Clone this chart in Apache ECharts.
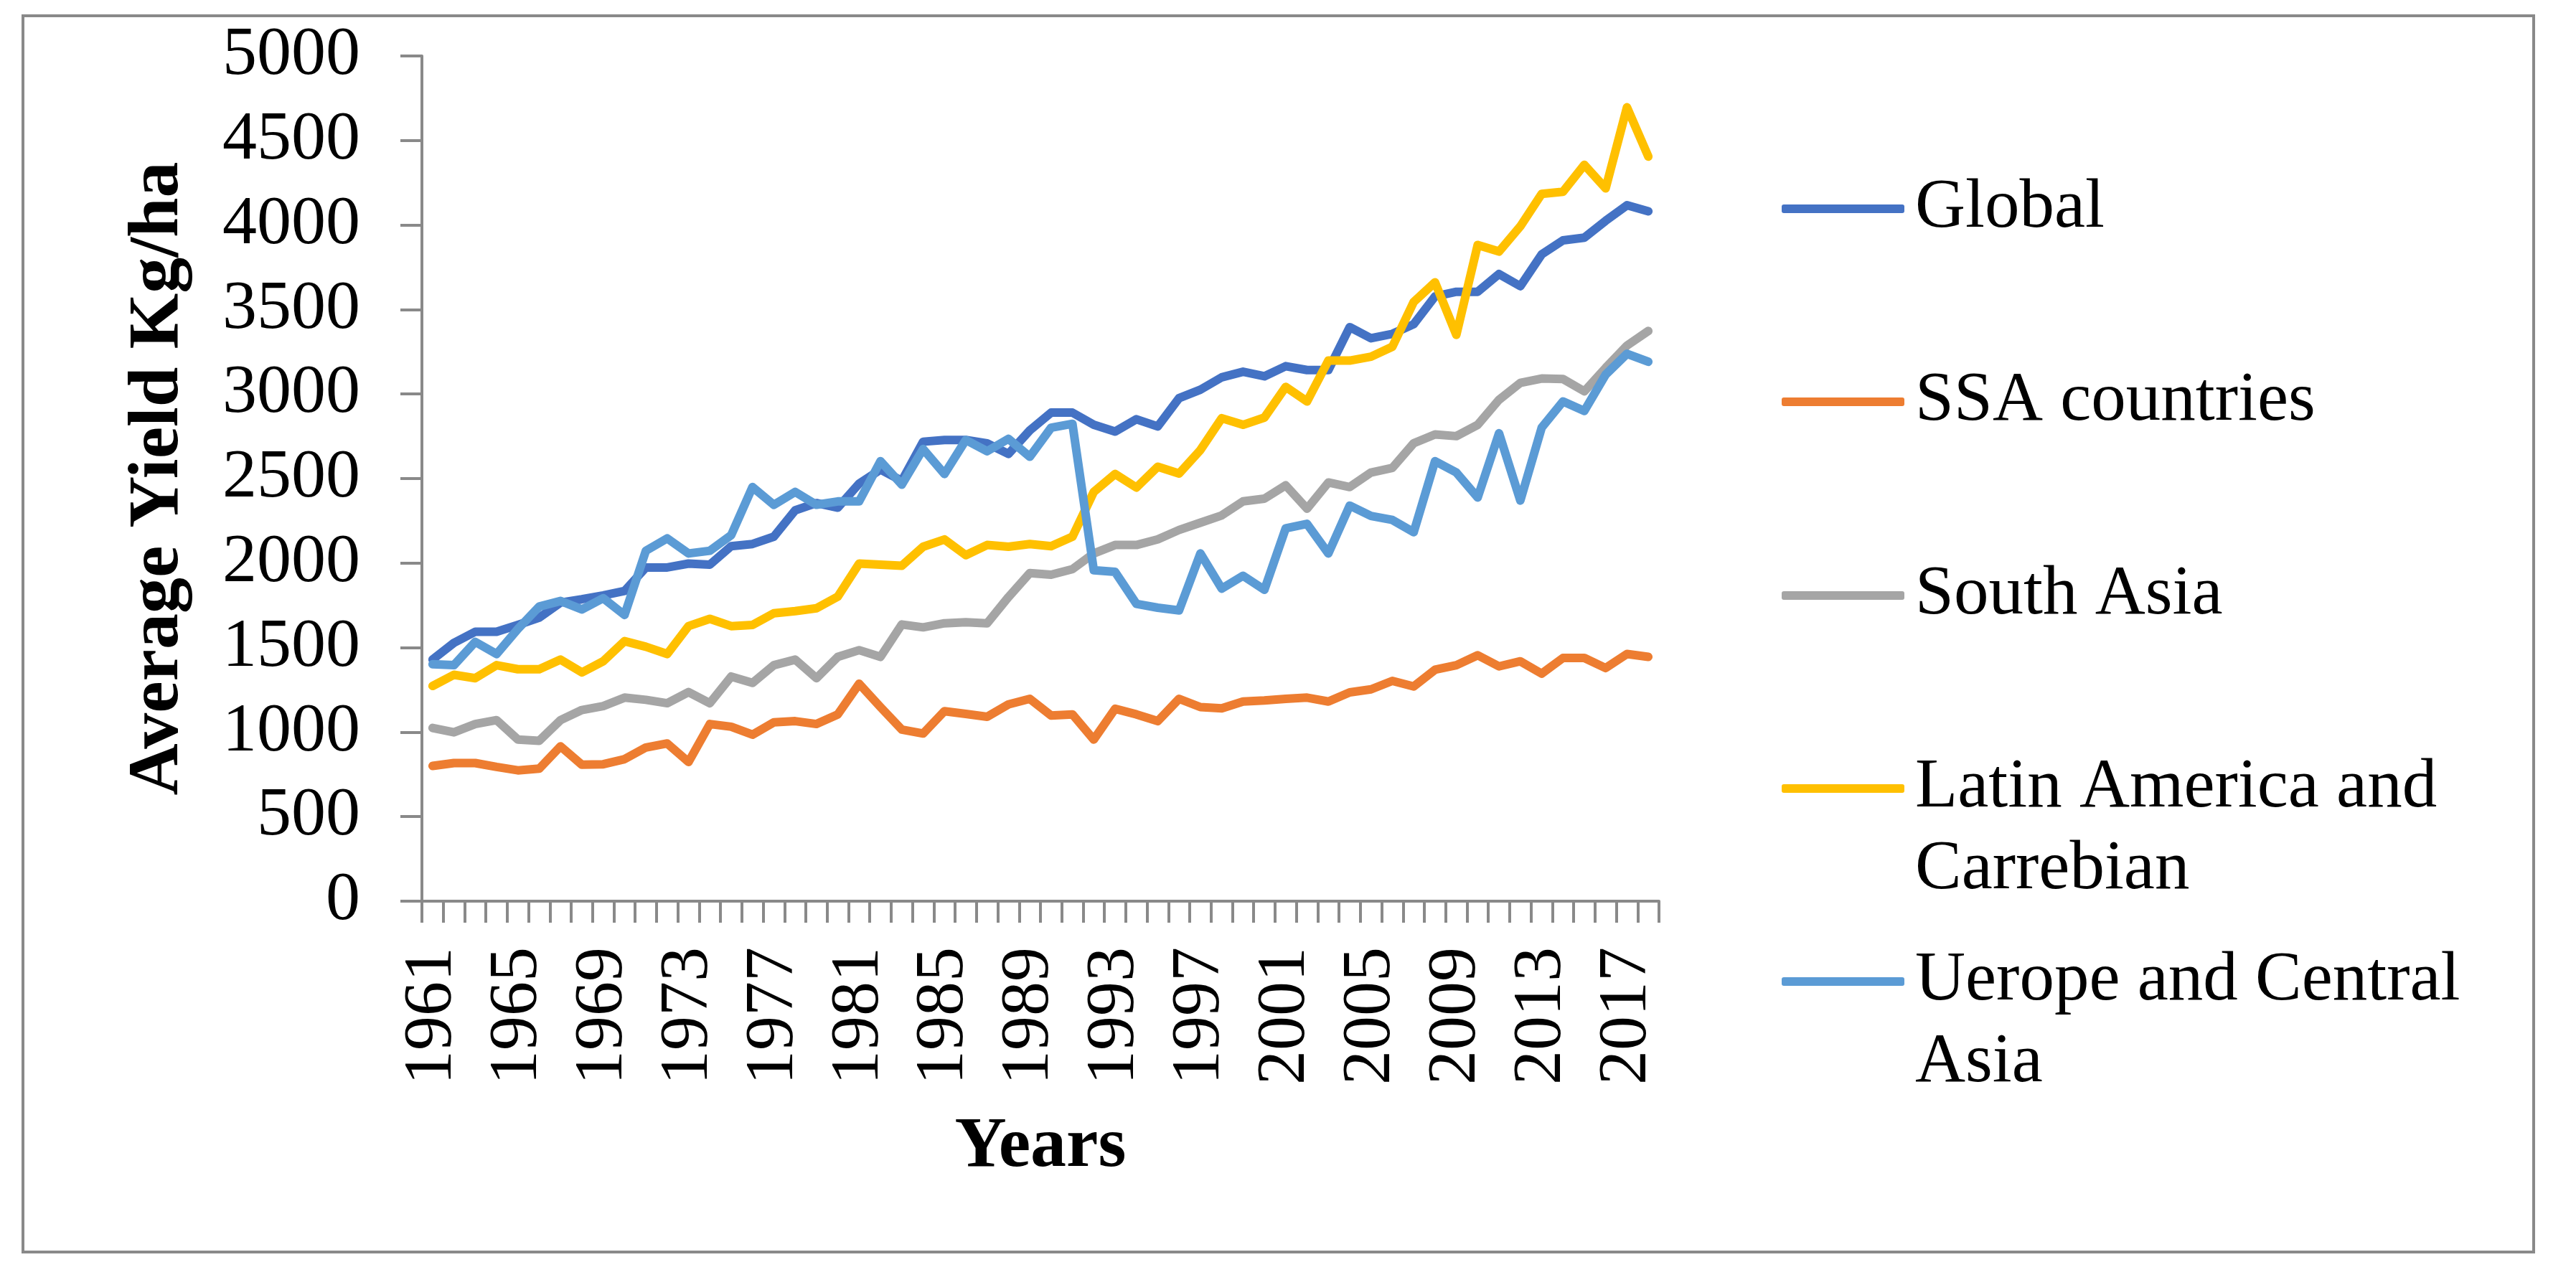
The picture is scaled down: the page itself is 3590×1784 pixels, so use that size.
<!DOCTYPE html>
<html>
<head>
<meta charset="utf-8">
<script src="https://cdn.jsdelivr.net/npm/echarts@6/dist/echarts.min.js"></script>
<style>
html,body{margin:0;padding:0;background:#fff;}
#chart{width:3590px;height:1784px;}
</style>
</head>
<body>
<div id="chart"></div>
<script>
const years = [];
for (let y = 1961; y <= 2018; y++) years.push(String(y));

const seriesNames = ['Global', 'SSA countries', 'South Asia', 'Latin America and Carrebian', 'Uerope and Central Asia'];

const globalYield = [1429,1528,1594,1594,1634,1677,1766,1786,1809,1835,1974,1974,1997,1991,2100,2113,2156,2312,2355,2328,2470,2553,2487,2718,2728,2728,2708,2646,2785,2890,2890,2818,2778,2851,2808,2976,3026,3099,3132,3105,3165,3142,3142,3396,3330,3356,3413,3578,3605,3605,3710,3638,3826,3909,3925,4025,4117,4081];
const ssaYield = [800,817,817,794,774,784,916,807,810,840,909,933,823,1048,1032,985,1058,1065,1048,1105,1286,1148,1015,992,1124,1108,1091,1164,1197,1098,1105,956,1138,1105,1065,1197,1148,1141,1181,1187,1197,1204,1181,1235,1253,1303,1270,1369,1396,1455,1389,1419,1346,1439,1439,1379,1462,1445];
const southAsiaYield = [1025,999,1048,1071,956,949,1071,1131,1154,1204,1191,1171,1237,1171,1329,1291,1396,1429,1319,1445,1485,1445,1637,1620,1644,1650,1644,1799,1941,1931,1964,2057,2107,2107,2140,2196,2239,2282,2365,2381,2460,2322,2477,2450,2536,2563,2709,2761,2751,2818,2966,3066,3092,3089,3016,3155,3287,3373];
const latinYield = [1273,1339,1319,1396,1372,1372,1429,1353,1419,1538,1505,1462,1627,1670,1627,1634,1703,1716,1733,1802,1997,1991,1984,2097,2140,2047,2107,2097,2113,2100,2156,2421,2527,2447,2570,2530,2669,2857,2818,2861,3042,2956,3198,3198,3221,3280,3545,3661,3350,3882,3843,3992,4184,4197,4356,4217,4696,4405];
const europeYield = [1402,1396,1534,1462,1610,1743,1776,1726,1792,1693,2073,2146,2057,2073,2165,2450,2345,2421,2345,2365,2365,2603,2464,2675,2527,2728,2662,2735,2629,2801,2824,1958,1948,1759,1736,1720,2057,1849,1925,1842,2206,2232,2057,2340,2279,2255,2183,2603,2536,2388,2768,2370,2801,2956,2900,3115,3238,3191];

const yTicks = ['0','500','1000','1500','2000','2500','3000','3500','4000','4500','5000'];

const colors = ['#4472C4', '#ED7D31', '#A5A5A5', '#FFC000', '#5B9BD5'];
const values = [globalYield, ssaYield, southAsiaYield, latinYield, europeYield];
const legendText = {
  'Global': 'Global',
  'SSA countries': 'SSA countries',
  'South Asia': 'South Asia',
  'Latin America and Carrebian': 'Latin America and\nCarrebian',
  'Uerope and Central Asia': 'Uerope and Central\nAsia'
};

const FONT = "'Liberation Serif', 'Times New Roman', serif";
const LH = 114;
const legendCenters = [291, 560, 830, 1099, 1368];

const chart = echarts.init(document.getElementById('chart'), null, {renderer: 'canvas'});

const legends = seriesNames.map((name, i) => {
  const twoLine = legendText[name].indexOf('\n') >= 0;
  return {
    data: [name],
    left: 2483,
    top: twoLine ? legendCenters[i] - 1.5 * LH : legendCenters[i] - LH / 2,
    padding: 0,
    icon: 'roundRect',
    itemWidth: 171,
    itemHeight: 12,
    selectedMode: false,
    formatter: n => (legendText[n].indexOf('\n') >= 0 ? ' \n' : '') + legendText[n],
    textStyle: {
      fontFamily: FONT,
      fontSize: 97,
      lineHeight: LH,
      color: '#000',
      padding: [0, 0, 0, 10]
    }
  };
});

chart.setOption({
  animation: false,
  backgroundColor: '#fff',
  color: colors,
  graphic: [{
    type: 'rect',
    shape: {x: 32, y: 22, width: 3499, height: 1723},
    style: {fill: 'none', stroke: '#898989', lineWidth: 4},
    silent: true
  }],
  legend: legends,
  grid: {left: 588, right: 1278, top: 78, bottom: 528, containLabel: false},
  xAxis: {
    type: 'category',
    data: years,
    boundaryGap: true,
    name: 'Years',
    nameLocation: 'middle',
    nameGap: 293,
    nameTextStyle: {fontFamily: FONT, fontSize: 100, fontWeight: 'bold', color: '#000', lineHeight: 100},
    axisLine: {show: true, lineStyle: {color: '#898989', width: 4}},
    axisTick: {show: true, interval: 0, length: 30, lineStyle: {color: '#898989', width: 4}},
    axisLabel: {
      interval: 3,
      rotate: 90,
      margin: 64,
      fontFamily: FONT,
      fontSize: 96,
      color: '#000'
    },
    splitLine: {show: false}
  },
  yAxis: {
    type: 'value',
    min: 0,
    max: 5000,
    interval: 500,
    name: 'Average Yield Kg/ha',
    nameLocation: 'middle',
    nameRotate: 90,
    nameGap: 317,
    nameTextStyle: {fontFamily: FONT, fontSize: 100, fontWeight: 'bold', color: '#000', lineHeight: 100},
    axisLine: {show: true, lineStyle: {color: '#898989', width: 4}},
    axisTick: {show: true, length: 30, lineStyle: {color: '#898989', width: 4}},
    axisLabel: {
      margin: 86,
      fontFamily: FONT,
      fontSize: 96,
      color: '#000',
      formatter: v => yTicks[Math.round(v / 500)]
    },
    splitLine: {show: false}
  },
  series: seriesNames.map((name, i) => ({
    name: name,
    type: 'line',
    data: values[i],
    showSymbol: false,
    symbol: 'none',
    lineStyle: {width: 12, color: colors[i], cap: 'round', join: 'round'},
    itemStyle: {color: colors[i]},
    emphasis: {disabled: true},
    z: 2 + i
  }))
});
</script>
</body>
</html>
